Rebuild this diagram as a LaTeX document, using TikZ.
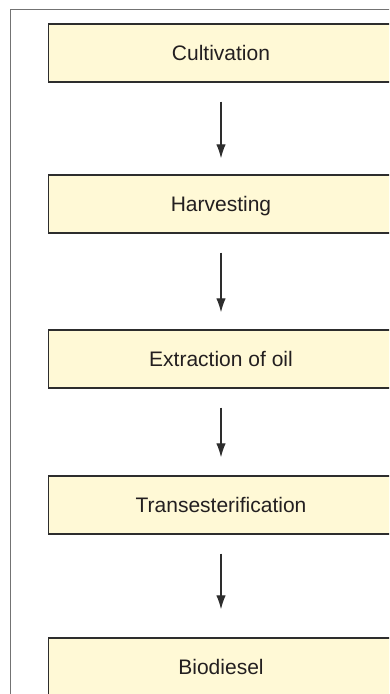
\documentclass[tikz,border=0pt]{standalone}
\usepackage{fontspec}
\setmainfont{Liberation Sans}
\usetikzlibrary{arrows.meta}
\definecolor{boxfill}{RGB}{255,249,214}
\definecolor{boxline}{RGB}{45,45,45}
\definecolor{frameline}{RGB}{115,115,115}
\definecolor{txt}{RGB}{35,31,32}

\begin{document}
\begin{tikzpicture}[x=1pt,y=1pt,
    stage/.style={draw=boxline,line width=1.4pt,fill=boxfill,minimum width=345pt,minimum height=58pt,
        inner sep=0pt,text=txt,font=\fontsize{21}{24}\selectfont,text height=15.2pt,text depth=0pt},
    flow/.style={line width=1.2pt,draw=boxline,-{Latex[length=14pt,width=9.5pt]},shorten <=19pt}]
        \useasboundingbox (0,0) rectangle (389,-694);
        \clip (0,0) rectangle (389,-694);
        \draw[frameline,line width=1.4pt](10.5,-700)|-(400,-9.5);
        \foreach \n/\y/\t in {cult/53/Cultivation,harv/204/Harvesting,extr/359/Extraction of oil,
            trans/505/Transesterification,bio/667/Biodiesel}
        \node[stage](\n) at (221,-\y){\t};
        \foreach \a/\b/\s in {cult/harv/16,harv/extr/17,extr/trans/18,trans/bio/28}
        \draw[flow,shorten >=\s pt](\a)--(\b);
    \end{tikzpicture}
\end{document}
